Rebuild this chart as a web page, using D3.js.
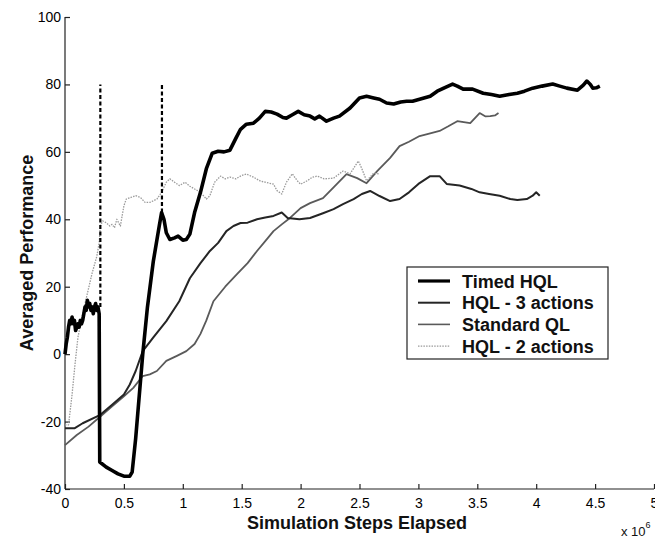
<!DOCTYPE html>
<html>
<head>
<meta charset="utf-8">
<script src="https://cdn.jsdelivr.net/npm/d3@7"></script>
<style>
  body { margin: 0; background: #fff; }
  svg { display: block; font-family: "Liberation Sans", Arial, sans-serif; }
</style>
</head>
<body>
<svg id="chart"></svg>
<script>
// steps elapsed (millions), averaged performance
let timedHQL = [
  [0,0],[0.01,3],[0.02,5],[0.03,8],[0.04,10],[0.05,9],[0.06,11],[0.07,9],[0.08,10],[0.09,7],
  [0.1,8],[0.11,9],[0.12,8],[0.13,10],[0.14,9],[0.15,10],[0.16,12],[0.17,14],[0.18,13],[0.19,16],
  [0.2,14],[0.21,15],[0.22,13],[0.23,14],[0.24,12],[0.25,14],[0.26,15],[0.27,13],[0.28,14],[0.29,12],
  [0.295,-32],[0.35,-33.5],[0.4,-34.5],[0.45,-35.5],[0.5,-36.2],[0.55,-36.2],[0.57,-35],[0.6,-25],
  [0.66,0],[0.7,14],[0.75,27.6],[0.8,38],[0.82,42],[0.84,40],[0.86,36],[0.89,34],[0.93,34.5],[0.96,35],
  [1.0,33.8],[1.03,34],[1.06,35.6],[1.1,42],[1.15,48],[1.2,55],[1.25,59.6],[1.3,60.2],[1.35,60],[1.4,60.5],
  [1.45,64],[1.49,66.7],[1.54,68.2],[1.6,68.5],[1.65,70],[1.7,72],[1.75,71.8],[1.8,71.2],[1.85,70.2],[1.88,70],
  [1.93,71],[1.98,72],[2.03,71],[2.08,70.6],[2.12,69.8],[2.16,70.6],[2.22,69.1],[2.28,70],[2.33,70.6],[2.42,73],
  [2.5,76],[2.56,76.5],[2.62,76],[2.67,75.6],[2.73,74.5],[2.79,74.2],[2.85,74.8],[2.9,75],[2.95,75],[3.01,75.6],
  [3.1,76.5],[3.16,78],[3.22,79],[3.29,80.1],[3.33,79.5],[3.38,78.6],[3.46,78.6],[3.55,77.4],[3.62,77],[3.69,76.5],
  [3.77,77],[3.84,77.4],[3.9,78],[3.97,78.9],[4.05,79.5],[4.14,80.1],[4.2,79.5],[4.26,78.9],[4.35,78.3],[4.4,79.8],
  [4.43,81],[4.46,80],[4.48,78.9],[4.51,79],[4.54,79.5]
];

let hql3 = [
  [0,-22],[0.08,-22],[0.15,-20.5],[0.3,-18],[0.4,-15],[0.5,-12],[0.55,-9],[0.6,-5],[0.66,0.9],[0.75,5],
  [0.86,9.8],[0.97,15.7],[1.06,22.5],[1.15,27],[1.23,30.6],[1.3,33],[1.37,36.5],[1.43,38],[1.49,38.9],[1.55,39],
  [1.63,40],[1.7,40.5],[1.77,41],[1.84,42],[1.89,40.4],[1.99,40],[2.08,40.4],[2.19,41.8],[2.28,43],[2.36,44.5],
  [2.45,46],[2.52,47.5],[2.59,48.4],[2.67,46.9],[2.76,45.4],[2.84,46],[2.92,48],[3.0,50.5],[3.1,52.8],[3.18,52.8],
  [3.24,50.5],[3.35,50],[3.45,49],[3.52,48],[3.6,47.5],[3.69,47],[3.78,46],[3.84,45.7],[3.92,46],[3.97,47],
  [4.0,48],[4.03,47]
];

let standardQL = [
  [0,-27],[0.1,-24],[0.2,-21.5],[0.3,-18.5],[0.4,-15.5],[0.5,-12.5],[0.58,-10],[0.66,-6.5],[0.72,-6],[0.78,-5],
  [0.86,-2],[0.95,-0.5],[1.03,0.9],[1.1,3],[1.15,6],[1.2,10],[1.26,15.7],[1.36,20],[1.46,23.7],[1.55,27],
  [1.63,30.6],[1.7,33.5],[1.77,36.5],[1.84,38.5],[1.91,40.4],[2.0,43.3],[2.08,44.8],[2.19,46.3],[2.28,49.5],[2.39,53.4],
  [2.48,52.2],[2.56,50.7],[2.65,54.3],[2.76,58.2],[2.84,61.7],[2.92,63],[3.01,64.7],[3.1,65.5],[3.18,66.2],[3.25,67.5],
  [3.33,69.1],[3.44,68.5],[3.52,71.5],[3.57,70.5],[3.61,70.6],[3.65,70.8],[3.68,71.5]
];

let hql2 = [
  [0,-21],[0.03,-21],[0.06,-12],[0.085,-3],[0.11,5],[0.15,12],[0.19,18],[0.23,24],[0.27,29],[0.29,33],
  [0.3,38],[0.32,39.5],[0.35,39],[0.38,38],[0.4,38.5],[0.42,37.5],[0.44,40],[0.47,38],[0.5,44],[0.52,46],
  [0.56,46.5],[0.6,47],[0.64,46.5],[0.68,45],[0.72,45],[0.78,46],[0.82,48],[0.86,51],[0.89,52],[0.93,51],
  [0.97,50],[1.02,51],[1.06,49.8],[1.1,49],[1.15,48],[1.2,46],[1.23,47],[1.27,51],[1.32,52.8],[1.36,52],
  [1.4,52.5],[1.45,52],[1.5,53],[1.54,53.4],[1.6,52.5],[1.66,51.3],[1.7,51],[1.77,50.4],[1.8,48.5],[1.84,47.5],
  [1.88,51],[1.93,53.5],[1.97,51.5],[2.0,50.4],[2.06,51.5],[2.1,52.5],[2.14,52.8],[2.2,52],[2.28,52.2],[2.36,54.3],
  [2.42,53.5],[2.49,57.3],[2.52,55],[2.56,51.4],[2.62,53.7],[2.67,53.4]
];

// vertical dashed markers: [step, from, to]
let markers = [[0.3, 14, 80], [0.823, 42, 80]];

let xTicks = [0, 0.5, 1, 1.5, 2, 2.5, 3, 3.5, 4, 4.5, 5];
let yTicks = [-40, -20, 0, 20, 40, 60, 80, 100];
let legendNames = ["Timed HQL", "HQL - 3 actions", "Standard QL", "HQL - 2 actions"];

let width = 655, height = 539;
let svg = d3.select("#chart").attr("width", width).attr("height", height);

let x = d3.scaleLinear().domain([0, 5]).range([65, 654]);
let y = d3.scaleLinear().domain([-40, 100]).range([489, 17]);

// axes (MATLAB style, ticks inside)
let xAxis = svg.append("g")
    .attr("transform", "translate(0," + y(-40) + ")")
    .call(d3.axisBottom(x).tickValues(xTicks).tickSize(-5).tickPadding(9)
        .tickFormat(d => String(d)));
let yAxis = svg.append("g")
    .attr("transform", "translate(" + x(0) + ",0)")
    .call(d3.axisLeft(y).tickValues(yTicks).tickSize(-5).tickPadding(4)
        .tickFormat(d => String(d)));

[xAxis, yAxis].forEach(a => {
    a.select(".domain").attr("stroke", "#222").attr("stroke-width", 1.2);
    a.selectAll(".tick line").attr("stroke", "#222").attr("stroke-width", 1.2);
    a.selectAll("text").attr("font-size", 14).attr("fill", "#000")
        .attr("font-family", "'Liberation Sans', Arial, sans-serif");
});
// MATLAB axis: no end caps on the domain path
xAxis.select(".domain").attr("d", "M" + x(0) + ",0H" + x(5));
yAxis.select(".domain").attr("d", "M0," + y(-40) + "V" + y(100));

let line = d3.line().x(d => x(d[0])).y(d => y(d[1]));

let styles = [
    {data: standardQL, color: "#5a5a5a", w: 1.8, dash: null},
    {data: hql2, color: "#9a9a9a", w: 1.3, dash: "1.5,1.2"},
    {data: hql3, color: "#252525", w: 2.0, dash: null},
    {data: timedHQL, color: "#000", w: 3.6, dash: null}
];

svg.append("g").selectAll("path")
    .data(styles)
    .enter().append("path")
    .attr("d", d => line(d.data))
    .attr("fill", "none")
    .attr("stroke", d => d.color)
    .attr("stroke-width", d => d.w)
    .attr("stroke-dasharray", d => d.dash)
    .attr("stroke-linejoin", "round");

svg.append("g").selectAll("line")
    .data(markers)
    .enter().append("line")
    .attr("x1", d => x(d[0])).attr("x2", d => x(d[0]))
    .attr("y1", d => y(d[1])).attr("y2", d => y(d[2]))
    .attr("stroke", "#000")
    .attr("stroke-width", 2.2)
    .attr("stroke-dasharray", "4,2.5");

// legend
let legendStyles = [
    {color: "#000", w: 3.2, dash: null},
    {color: "#252525", w: 2.0, dash: null},
    {color: "#5a5a5a", w: 1.6, dash: null},
    {color: "#9a9a9a", w: 1.2, dash: "1.5,1.2"}
];
let legend = svg.append("g").attr("transform", "translate(407,267)");
legend.append("rect")
    .attr("width", 201).attr("height", 92)
    .attr("fill", "#fff").attr("stroke", "#222").attr("stroke-width", 1.2);
let items = legend.selectAll("g.item")
    .data(legendNames)
    .enter().append("g")
    .attr("class", "item")
    .attr("transform", (d, i) => "translate(0," + (14 + i * 21.7) + ")");
items.append("line")
    .attr("x1", 11).attr("x2", 43)
    .attr("stroke", (d, i) => legendStyles[i].color)
    .attr("stroke-width", (d, i) => legendStyles[i].w)
    .attr("stroke-dasharray", (d, i) => legendStyles[i].dash);
items.append("text")
    .attr("x", 55).attr("y", 6.5)
    .attr("font-size", 18).attr("font-weight", "bold").attr("fill", "#111")
    .text(d => d);

// axis titles
svg.append("text")
    .attr("x", 357).attr("y", 529)
    .attr("text-anchor", "middle")
    .attr("font-size", 18).attr("font-weight", "bold").attr("fill", "#111")
    .text("Simulation Steps Elapsed");
svg.append("text")
    .attr("transform", "translate(33,253) rotate(-90)")
    .attr("text-anchor", "middle")
    .attr("font-size", 18).attr("font-weight", "bold").attr("fill", "#111")
    .text("Averaged Performance");

let expo = svg.append("text")
    .attr("x", 621).attr("y", 536)
    .attr("font-size", 13).attr("fill", "#111");
expo.append("tspan").text("x 10");
expo.append("tspan").attr("dy", -8).attr("font-size", 9).text("6");
</script>
</body>
</html>
